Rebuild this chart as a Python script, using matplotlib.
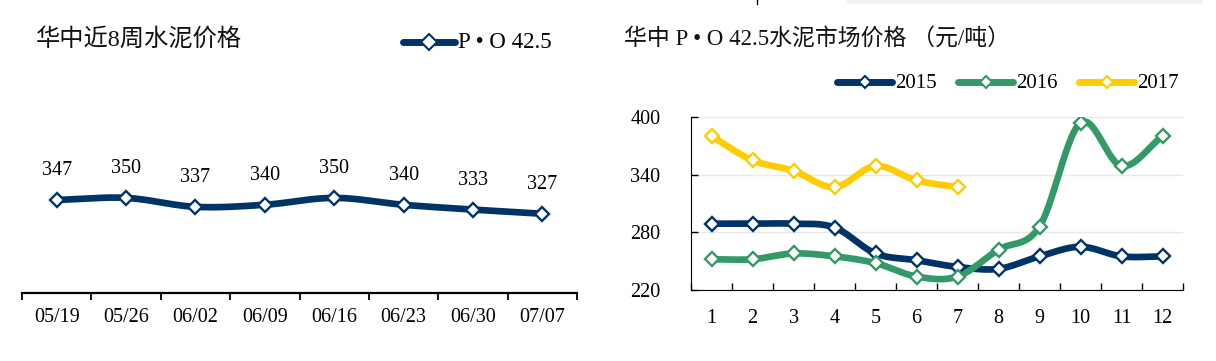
import numpy as np
import matplotlib
matplotlib.use("Agg")
import matplotlib.pyplot as plt
from matplotlib.patches import Rectangle

# ---- dados ----
weeks = ["05/19", "05/26", "06/02", "06/09", "06/16", "06/23", "06/30", "07/07"]
po425_week = [347, 350, 337, 340, 350, 340, 333, 327]

months = list(range(1, 13))
p2015 = [289, 289, 289, 285, 258, 251, 244, 242, 255, 265, 255, 255]
p2016 = [252, 252, 258, 255, 248, 234, 234, 262, 286, 394, 349, 380]
p2017 = [380, 355, 344, 327, 349, 334, 327]

NAVY = "#003366"
GREEN = "#339966"
YELLOW = "#FFCC00"
SERIF = ["Liberation Serif", "Noto Sans CJK SC"]

W, H = 1216, 361


def smooth(x, y, n=20):
    # curva suavizada tipo Excel (Catmull-Rom) passando pelos pontos
    x = np.asarray(x, float); y = np.asarray(y, float)
    px = np.concatenate([[2 * x[0] - x[1]], x, [2 * x[-1] - x[-2]]])
    py = np.concatenate([[2 * y[0] - y[1]], y, [2 * y[-1] - y[-2]]])
    xs, ys = [], []
    t = np.linspace(0, 1, n)
    for i in range(1, len(px) - 2):
        for p, out in ((px, xs), (py, ys)):
            p0, p1, p2, p3 = p[i - 1], p[i], p[i + 1], p[i + 2]
            out.extend(0.5 * ((2 * p1) + (-p0 + p2) * t + (2 * p0 - 5 * p1 + 4 * p2 - p3) * t ** 2
                              + (-p0 + 3 * p1 - 3 * p2 + p3) * t ** 3))
    return np.array(xs), np.array(ys)


def series(ax, x, y, c, lw=4.8):
    sx, sy = smooth(x, y)
    ax.plot(sx, sy, color=c, lw=lw, solid_capstyle="round", zorder=3)
    ax.plot(x, y, ls="none", marker="D", ms=7.5, mfc="white", mec=c, mew=1.7, zorder=4)


fig = plt.figure(figsize=(W / 100, H / 100), dpi=100)
bax = fig.add_axes([0, 0, 1, 1]); bax.set_xlim(0, W); bax.set_ylim(H, 0); bax.axis("off")
bax.add_patch(Rectangle((847, 0), 356, 3.5, fc="#F2F2F2", ec="none"))
bax.plot([757, 757], [0, 3.5], color="black", lw=1)


def T(x, y, s, sz, ha="left", va="center", c="black"):
    bax.text(x, y, s, family=SERIF, fontsize=sz, color=c, ha=ha, va=va)


def legend_item(x0, x1, y, c, label, sz=15, lw=5, ms=6.5):
    bax.plot([x0, x1], [y, y], color=c, lw=lw, solid_capstyle="round", zorder=3)
    bax.plot([(x0 + x1) / 2], [y], ls="none", marker="D", ms=ms, mfc="white", mec=c, mew=1.5, zorder=4)
    T(x1 + 3, y + 1, label, sz)


# ---- esquerda ----
T(36, 39, "华中近8周水泥价格", 17.5, c="#111111")
legend_item(403, 455, 42, NAVY, "P • O 42.5", sz=16.5, lw=5, ms=8)

ax1 = fig.add_axes([22 / W, (H - 293) / H, 555 / W, 193 / H])
xw = np.arange(len(weeks))
series(ax1, xw, po425_week, NAVY)
for xi, v in zip(xw, po425_week):
    ax1.annotate(str(v), (xi, v), xytext=(0, 21), textcoords="offset points",
                 ha="center", va="center", family=SERIF, fontsize=14.5)
ax1.set_xlim(-0.5, len(weeks) - 0.5)
ax1.set_ylim(212, 492)
ax1.set_yticks([])
ax1.set_xticks(xw)
ax1.set_xticklabels(weeks, family=SERIF, fontsize=14.5)
ax1.set_xticks(np.arange(-0.5, len(weeks)), minor=True)
ax1.tick_params(axis="x", which="major", length=0, pad=11)
ax1.tick_params(axis="x", which="minor", length=5, width=1.3, direction="out")
for s in ("top", "right", "left"):
    ax1.spines[s].set_visible(False)
ax1.spines["bottom"].set_linewidth(1.6)

# ---- direita ----
T(624, 39, "华中 P • O 42.5水泥市场价格 （元/吨）", 16.5, c="#111111")
legend_item(837, 892, 82, NAVY, "2015")
legend_item(958, 1013, 82, GREEN, "2016")
legend_item(1079, 1134, 82, YELLOW, "2017")

ax2 = fig.add_axes([691 / W, (H - 290) / H, 492 / W, 173 / H])
series(ax2, months, p2015, NAVY)
series(ax2, months, p2016, GREEN)
series(ax2, months[:len(p2017)], p2017, YELLOW)
ax2.set_xlim(0.5, 12.5)
ax2.set_ylim(220, 400)
ax2.set_yticks([220, 280, 340, 400])
ax2.set_yticklabels(["220", "280", "340", "400"], family=SERIF, fontsize=14.5)
ax2.set_xticks(months)
ax2.set_xticklabels([str(m) for m in months], family=SERIF, fontsize=14.5)
ax2.set_xticks(np.arange(0.5, 13), minor=True)
ax2.tick_params(axis="x", which="major", length=0, pad=14)
ax2.tick_params(axis="x", which="minor", length=5, width=1, direction="in")
ax2.tick_params(axis="y", length=5, width=1, direction="in", pad=22)
ax2.grid(axis="y", color="#E8E8E8", lw=1)
ax2.set_axisbelow(True)
for s in ("top", "right"):
    ax2.spines[s].set_visible(False)

fig.savefig("out.png", dpi=100, facecolor="white")
